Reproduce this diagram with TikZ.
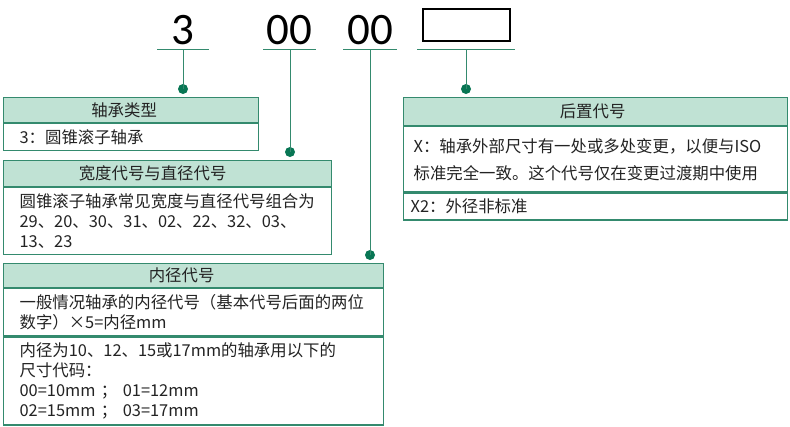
\documentclass[tikz,border=0pt]{standalone}
\usepackage{fontspec}
\setmainfont{Noto Sans CJK SC}
\newfontfamily\digitfont{Carlito}
\usepackage{tikz}
\usetikzlibrary{positioning,calc}
\definecolor{codegreen}{RGB}{52,138,110}
\definecolor{headfill}{RGB}{192,226,212}
\definecolor{dotgreen}{RGB}{8,118,84}
\definecolor{txtgray}{RGB}{35,35,35}

\tikzset{
  digit/.style={font=\digitfont\fontsize{45}{45}\selectfont, anchor=base, inner sep=0pt},
  uline/.style={draw=codegreen, line width=1pt},
  conn/.style={draw=codegreen, line width=1pt},
  dotmark/.style={circle, fill=dotgreen, inner sep=0pt, minimum size=10pt},
  headbox/.style={draw=codegreen, fill=headfill, line width=1.2pt, anchor=north west,
    inner sep=0pt, font=\fontsize{16.4}{20}\selectfont, text=txtgray},
  bodybox/.style={draw=codegreen, fill=white, line width=1.2pt, anchor=north west,
    align=left, inner ysep=0pt, font=\fontsize{16.4}{20}\selectfont, text=txtgray},
}

\begin{document}
\begin{tikzpicture}[x=1pt, y=-1pt]
  \useasboundingbox (0,0) rectangle (790,426);
  % code digits
  \node[digit] (d3) at (183,44) {3};
  \node[digit] (d00a) at (289,44) {00};
  \node[digit] (d00b) at (370,44) {00};
  \node[draw=black, line width=2pt, minimum width=87pt, minimum height=32pt, inner sep=0pt] (dbox) at (466,25) {};
  % underlines
  \coordinate (u3) at (183,49);
  \coordinate (u00a) at (290,49);
  \coordinate (u00b) at (370,49);
  \coordinate (ubox) at (466,49);
  \draw[uline] ([xshift=-26pt]u3) -- ([xshift=26pt]u3);
  \draw[uline] ([xshift=-27pt]u00a) -- ([xshift=26pt]u00a);
  \draw[uline] ([xshift=-27pt]u00b) -- ([xshift=27pt]u00b);
  \draw[uline] ([xshift=-49pt]ubox) -- ([xshift=49pt]ubox);
  % bearing type
  \node[headbox, minimum width=255pt, minimum height=25pt] (typehead) at (3,97) {\hspace*{-14pt}轴承类型};
  \node[bodybox, text width=223pt, inner xsep=16pt, minimum height=27pt] (typebody) at (typehead.south west) {3：圆锥滚子轴承};
  % width and diameter series
  \node[headbox, minimum width=328pt, minimum height=26pt] (serhead) at (3,160) {\hspace*{-30pt}宽度代号与直径代号};
  \node[bodybox, text width=296pt, inner xsep=16pt, minimum height=67pt] (serbody) at (serhead.south west)
    {圆锥滚子轴承常见宽度与直径代号组合为\\29、20、30、31、02、22、32、03、\\13、23};
  % bore code
  \node[headbox, minimum width=380pt, minimum height=24pt] (borehead) at (3,263) {\hspace*{-24pt}内径代号};
  \node[bodybox, text width=348pt, inner xsep=16pt, minimum height=47pt] (borebodya) at (borehead.south west)
    {一般情况轴承的内径代号（基本代号后面的两位\\数字）×5=内径mm};
  \node[bodybox, text width=348pt, inner xsep=16pt, minimum height=88pt] (borebodyb) at (borebodya.south west)
    {内径为10、12、15或17mm的轴承用以下的\\尺寸代码：\\00=10mm ； 01=12mm\\02=15mm ； 03=17mm};
  % suffix code
  \node[headbox, minimum width=384pt, minimum height=28pt] (sufhead) at (403,97) {\hspace*{-6pt}后置代号};
  \node[bodybox, text width=364pt, inner xsep=10pt, minimum height=65pt, font=\fontsize{16.4}{27}\selectfont] (sufbodya) at (sufhead.south west)
    {X：轴承外部尺寸有一处或多处变更，以便与ISO\\标准完全一致。这个代号仅在变更过渡期中使用};
  \node[bodybox, text width=370pt, inner xsep=7pt, minimum height=27pt] (sufbodyb) at (sufbodya.south west) {X2：外径非标准};
  % connectors
  \node[dotmark] (p3) at (183,89) {};
  \node[dotmark] (p00a) at (290,152) {};
  \node[dotmark] (p00b) at (370,255) {};
  \node[dotmark] (pbox) at (466,89) {};
  \draw[conn] (u3) -- (p3.center);
  \draw[conn] (u00a) -- (p00a.center);
  \draw[conn] (u00b) -- (p00b.center);
  \draw[conn] (ubox) -- (pbox.center);
\end{tikzpicture}
\end{document}
